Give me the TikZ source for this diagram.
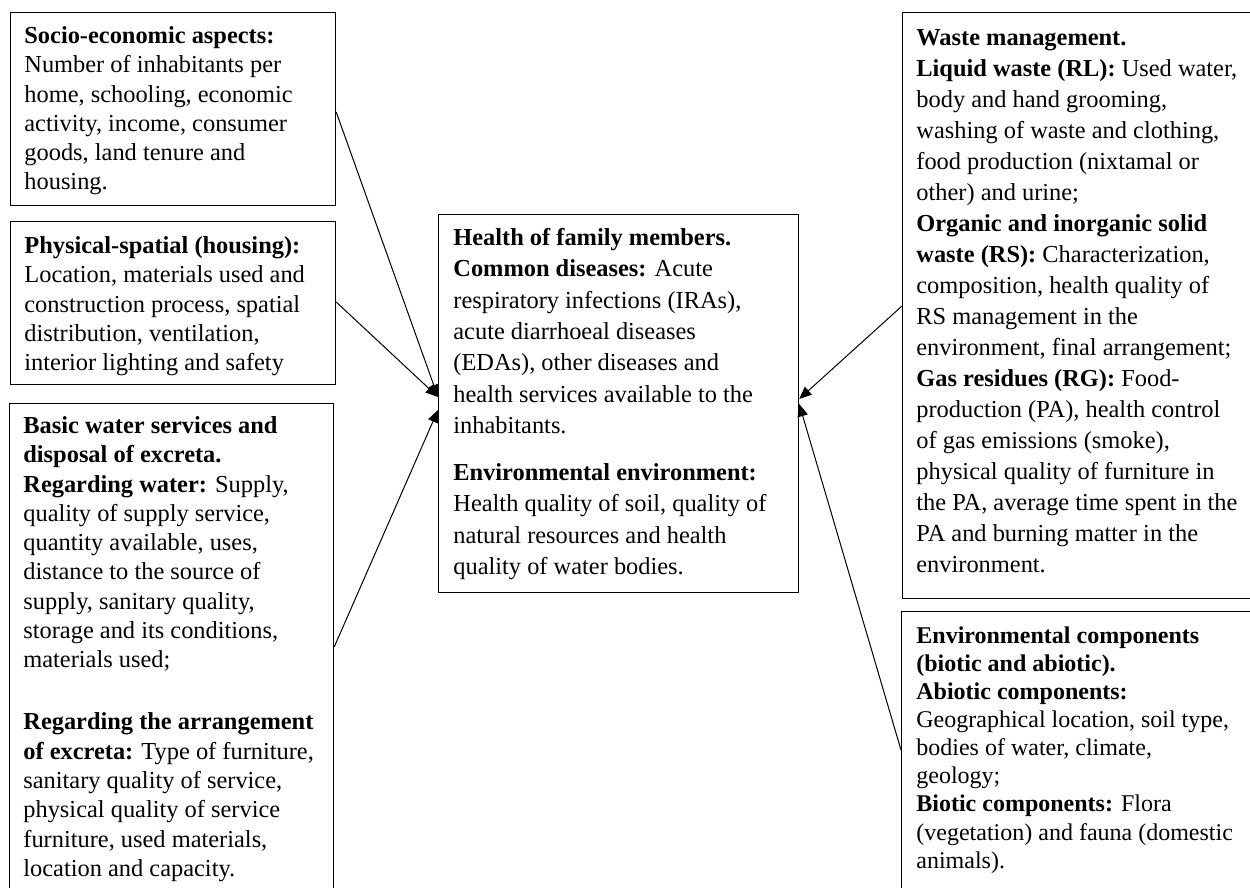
\documentclass[tikz,border=0pt]{standalone}
\usepackage{fontspec}
\setmainfont{Liberation Serif}
\usetikzlibrary{arrows.meta,calc}

\begin{document}
\begin{tikzpicture}[x=0.5pt,y=-0.5pt,
  boxframe/.style={draw=black,line width=0.6pt,anchor=north west,inner sep=0pt},
  boxtext/.style={anchor=north west,inner sep=0pt,align=left},
  lefttext/.style={boxtext,font=\fontsize{12.2}{14.65}\selectfont},
  link/.style={line width=0.5pt,-{Triangle[length=6.2pt,width=5.2pt]}}]
\useasboundingbox (0,0) rectangle (1250,888);
\clip (0,0) rectangle (1250,888);

% frames
\node[boxframe,minimum width=162.5pt,minimum height=96.5pt] (soc) at (10,12) {};
\node[boxframe,minimum width=162.5pt,minimum height=81.5pt] (phys) at (10,221) {};
\node[boxframe,minimum width=162pt,minimum height=250pt] (water) at (9,403) {};
\node[boxframe,minimum width=180pt,minimum height=189pt] (health) at (438,214) {};
\node[boxframe,minimum width=180pt,minimum height=293pt] (waste) at (902,12) {};
\node[boxframe,minimum width=180pt,minimum height=145pt] (env) at (901,611) {};

% texts
\node[lefttext] (soct) at (24,22.5) {\strut\textbf{Socio-economic aspects:}\\
Number of inhabitants per\\
home, schooling, economic\\
activity, income, consumer\\
goods, land tenure and\\
housing.};

\node[lefttext] (physt) at (24,232.5) {\strut\textbf{Physical-spatial (housing):}\\
Location, materials used and\\
construction process, spatial\\
distribution, ventilation,\\
interior lighting and safety};

\node[lefttext] (watert) at (23,412.5) {\strut\textbf{Basic water services and}\\
\textbf{disposal of excreta.}\\
\textbf{Regarding water:} Supply,\\
quality of supply service,\\
quantity available, uses,\\
distance to the source of\\
supply, sanitary quality,\\
storage and its conditions,\\
materials used;\\[16.35pt]
\textbf{Regarding the arrangement}\\
\textbf{of excreta:} Type of furniture,\\
sanitary quality of service,\\
physical quality of service\\
furniture, used materials,\\
location and capacity.};

\node[boxtext,font=\fontsize{12.2}{15.7}\selectfont] (healtht) at (453,223) {\strut\textbf{Health of family members.}\\
\textbf{Common diseases:} Acute\\
respiratory infections (IRAs),\\
acute diarrhoeal diseases\\
(EDAs), other diseases and\\
health services available to the\\
inhabitants.\\[7.65pt]
\textbf{Environmental environment:}\\
Health quality of soil, quality of\\
natural resources and health\\
quality of water bodies.};

\node[boxtext,font=\fontsize{12.2}{15.5}\selectfont] (wastet) at (916,23.3) {\strut\textbf{Waste management.}\\
\textbf{Liquid waste (RL):} Used water,\\
body and hand grooming,\\
washing of waste and clothing,\\
food production (nixtamal or\\
other) and urine;\\
\textbf{Organic and inorganic solid}\\
\textbf{waste (RS):} Characterization,\\
composition, health quality of\\
RS management in the\\
environment, final arrangement;\\
\textbf{Gas residues (RG):} Food-\\
production (PA), health control\\
of gas emissions (smoke),\\
physical quality of furniture in\\
the PA, average time spent in the\\
PA and burning matter in the\\
environment.};

\node[boxtext,font=\fontsize{12}{14.05}\selectfont] (envt) at (916,623.3) {\strut\textbf{Environmental components}\\
\textbf{(biotic and abiotic).}\\
\textbf{Abiotic components:}\\
Geographical location, soil type,\\
bodies of water, climate,\\
geology;\\
\textbf{Biotic components:} Flora\\
(vegetation) and fauna (domestic\\
animals).};

% connectors into the central box
\draw[link] ($(soc.north east)+(0,100)$) -- ($(health.north west)+(0,183)$);
\draw[link] ($(phys.north east)+(0,81)$) -- ($(health.north west)+(0,183)$);
\draw[link] ($(water.north east)+(0,244)$) -- ($(health.north west)+(0,196)$);
\draw[link] ($(waste.north west)+(0,294)$) -- ($(health.north east)+(0,185)$);
\draw[link] ($(env.north west)+(0,139)$) -- ($(health.north east)+(0,190)$);
\end{tikzpicture}
\end{document}
